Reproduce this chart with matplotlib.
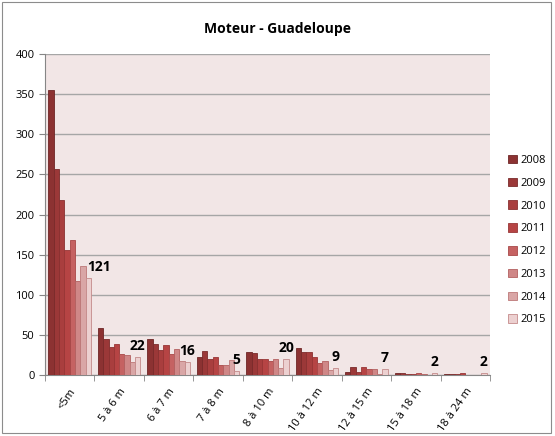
import numpy as np
import matplotlib.pyplot as plt
from matplotlib.patches import Rectangle

plt.rcParams['font.family'] = ['Open Sans', 'DejaVu Sans']

categories = ["<5m", "5 à 6 m", "6 à 7 m", "7 à 8 m", "8 à 10 m",
              "10 à 12 m", "12 à 15 m", "15 à 18 m", "18 à 24 m"]
years = ["2008", "2009", "2010", "2011", "2012", "2013", "2014", "2015"]

# one row per year, one value per category
values = {
    "2008": [355, 59, 45, 22, 28, 33, 4, 2, 1],
    "2009": [257, 45, 38, 30, 27, 29, 10, 2, 1],
    "2010": [218, 35, 31, 20, 20, 29, 4, 1, 1],
    "2011": [156, 38, 37, 23, 20, 23, 10, 1, 2],
    "2012": [168, 26, 26, 13, 18, 15, 7, 2, 0],
    "2013": [117, 25, 32, 12, 20, 17, 8, 1, 0],
    "2014": [136, 16, 18, 19, 9, 6, 1, 0, 0],
    "2015": [121, 22, 16, 5, 20, 9, 7, 2, 2],
}

colors = ["#8c3232", "#9b3838", "#a93e3e", "#b64444", "#c56262",
          "#cf8787", "#d9a6a6", "#ecd0d0"]
edges = ["#6e2626", "#7a2b2b", "#8a3131", "#983636", "#a84848",
         "#b36060", "#bd7878", "#c48a8a"]

fig = plt.figure(figsize=(5.55, 4.36), dpi=100)
fig.patches.append(Rectangle((0.003, 0.008), 0.99, 0.988, transform=fig.transFigure,
                             fill=False, edgecolor="#8c8c8c", linewidth=0.8))
ax = fig.add_axes([0.081, 0.14, 0.802, 0.736])
ax.set_facecolor("#f2e6e6")

x = np.arange(len(categories))
n = len(years)
group = 0.86
w = group / n
for i, yr in enumerate(years):
    ax.bar(x - group / 2 + w * (i + 0.5), values[yr], width=w, color=colors[i],
           edgecolor=edges[i], linewidth=0.6, label=yr, zorder=3)

# labels for the 2015 series
last = values["2015"]
for j, v in enumerate(last):
    dx = 0.22 if j == 0 else 0
    ax.annotate(str(v), (x[j] - group / 2 + w * (n - 0.5) + dx, v), xytext=(0, 3),
                textcoords="offset points", ha="center", va="bottom",
                fontsize=10, fontweight="bold", zorder=4)

ax.set_xlim(-0.5, len(categories) - 0.5)
ax.set_ylim(0, 400)
ax.set_yticks(range(0, 401, 50))
ax.yaxis.grid(True, color="#a6a6a6", linewidth=1)
ax.set_axisbelow(True)
ax.set_xticks(x)
ax.set_xticklabels(categories, rotation=55, ha="right", rotation_mode="anchor", fontsize=8)
ax.tick_params(axis="x", length=0, pad=8)
ax.set_xticks(np.arange(-0.5, len(categories), 1), minor=True)
ax.tick_params(axis="x", which="minor", length=4, color="#868686")
ax.tick_params(axis="y", labelsize=8, length=4, color="#868686")
for s in ["top", "right"]:
    ax.spines[s].set_visible(False)
for s in ["left", "bottom"]:
    ax.spines[s].set_color("#868686")

fig.text(0.5, 0.934, "Moteur - Guadeloupe", ha="center", va="center",
         fontsize=10, fontweight="bold")

ax.legend(loc="center left", bbox_to_anchor=(1.03, 0.42), frameon=False,
          fontsize=8, handlelength=0.8, handleheight=0.8, handletextpad=0.3,
          labelspacing=1.05, borderaxespad=0)

fig.savefig("out.png", dpi=100)
